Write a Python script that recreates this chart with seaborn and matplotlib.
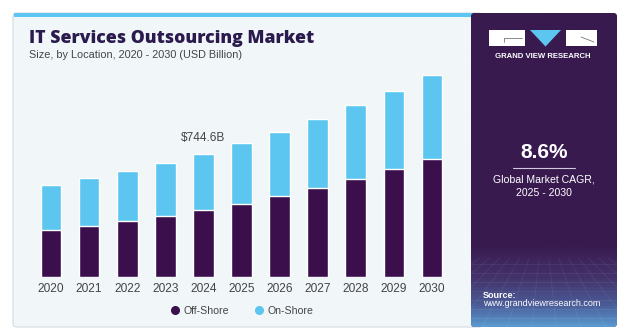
import numpy as np
import pandas as pd
import seaborn as sns
import matplotlib
matplotlib.use("Agg")
import matplotlib.pyplot as plt
from matplotlib.patches import FancyBboxPatch, Rectangle, Polygon
from matplotlib.lines import Line2D
from matplotlib.transforms import IdentityTransform
from matplotlib.colors import LinearSegmentedColormap

years = ["2020", "2021", "2022", "2023", "2024", "2025", "2026", "2027", "2028", "2029", "2030"]
offshore = [284.5, 310.6, 337.0, 369.0, 405.6, 443.8, 490.0, 538.8, 593.0, 654.0, 716.0]
onshore = [272.5, 287.0, 304.7, 319.0, 339.0, 365.2, 389.6, 415.8, 446.0, 474.0, 509.0]
series_names = ["Off-Shore", "On-Shore"]
highlight_year = "2024"
highlight_label = "$744.6B"
cagr_text = "8.6%"

PURPLE = "#3a0f4c"
BLUE = "#5cc6f0"
PANEL = "#381a4f"
BG = "#f1f6f9"
TXT = "#444444"

sns.set_style("white")
plt.rcParams['font.family'] = ['Liberation Sans', 'DejaVu Sans']

W, H = 620, 329
fig = plt.figure(figsize=(W / 100, H / 100), dpi=100)
fig.patch.set_facecolor("white")
ID = IdentityTransform()

def P(x, y):
    return (x, H - y)

# left panel
lp = FancyBboxPatch(P(13, 327), 470, 314, boxstyle="round,pad=0,rounding_size=4",
                    transform=ID, facecolor=BG, edgecolor="#d5dadf", lw=0.8, zorder=0)
fig.patches.append(lp)
fig.patches.append(Rectangle(P(14, 16.5), 460, 3.5, transform=ID, facecolor=BLUE,
                             edgecolor="none", zorder=1))

# right panel with gradient
rp = FancyBboxPatch(P(471, 327), 146, 314, boxstyle="round,pad=0,rounding_size=4",
                    transform=ID, facecolor=PANEL, edgecolor="none", zorder=2)
fig.patches.append(rp)
pax = fig.add_axes([471 / W, 2 / H, 146 / W, 314 / H], zorder=3)
pax.set_axis_off()
pax.set_facecolor("none")
cmap = LinearSegmentedColormap.from_list(
    "g", [(0, PANEL), (0.74, PANEL), (0.85, "#44346c"), (0.93, "#4a5a96"), (1.0, "#5a98cf")])
grad = np.linspace(0, 1, 300).reshape(-1, 1)
im = pax.imshow(grad, aspect="auto", cmap=cmap, extent=(0, 1, 1, 0))
pax.set_xlim(0, 1)
pax.set_ylim(1, 0)
im.set_clip_path(rp)
for yy in np.linspace(0.80, 1.0, 8):
    l = pax.plot([0, 1], [yy, yy], color="white", alpha=0.07, lw=0.6)[0]
    l.set_clip_path(rp)
for xx in np.linspace(-0.6, 1.6, 14):
    l = pax.plot([0.5 + (xx - 0.5) * 0.4, xx], [0.78, 1.0], color="white", alpha=0.07, lw=0.6)[0]
    l.set_clip_path(rp)

# logo
fig.patches.append(Rectangle(P(489, 46), 36, 16, transform=ID, facecolor="white", edgecolor="none", zorder=5))
fig.patches.append(Polygon([P(530, 30), P(561, 30), P(545.5, 46.5)], closed=True, transform=ID,
                           facecolor=BLUE, edgecolor="none", zorder=5))
fig.patches.append(Rectangle(P(566, 46), 31, 16, transform=ID, facecolor="white", edgecolor="none", zorder=5))
fig.lines.append(Line2D([504, 522], [H - 38, H - 38], transform=ID, color="#777777", lw=0.6, zorder=6))
fig.lines.append(Line2D([504, 504], [H - 38, H - 42], transform=ID, color="#777777", lw=0.6, zorder=6))
fig.lines.append(Line2D([581, 594], [H - 37, H - 42], transform=ID, color="#777777", lw=0.6, zorder=6))
fig.text(543 / W, 1 - 57 / H, "GRAND VIEW RESEARCH", color="white", fontsize=5.6,
         fontweight="bold", ha="center", va="center", zorder=6)

# right panel texts
fig.text(544 / W, 1 - 152.5 / H, cagr_text, color="white", fontsize=15, fontweight="bold",
         ha="center", va="center", zorder=6)
fig.lines.append(Line2D([513, 575], [H - 167.5, H - 167.5], transform=ID, color="#d0c8dc", lw=0.8, zorder=6))
fig.text(544 / W, 1 - 180 / H, "Global Market CAGR,", color="white", fontsize=7.6,
         ha="center", va="center", zorder=6)
fig.text(544 / W, 1 - 193 / H, "2025 - 2030", color="white", fontsize=7.6,
         ha="center", va="center", zorder=6)
fig.text(483 / W, 1 - 295 / H, "Source:", color="white", fontsize=6.5, fontweight="bold",
         ha="left", va="center", zorder=6)
fig.text(483 / W, 1 - 303.5 / H, "www.grandviewresearch.com", color="white", fontsize=6.5,
         ha="left", va="center", zorder=6)

# titles
fig.text(29 / W, 1 - 43.3 / H, "IT Services Outsourcing Market", color="#2b1a4e",
         fontsize=12.7, fontweight=800, family=["Open Sans", "Liberation Sans", "DejaVu Sans"],
         ha="left", va="baseline", zorder=6)
fig.text(29 / W, 1 - 57.7 / H, "Size, by Location, 2020 - 2030 (USD Billion)", color=TXT,
         fontsize=7.8, ha="left", va="baseline", zorder=6)

# bars
df = pd.DataFrame({"Year": years, series_names[0]: offshore, series_names[1]: onshore})
df["Total"] = df[series_names[0]] + df[series_names[1]]

ax = fig.add_axes([32 / W, (H - 277) / H, 419 / W, 217 / H], zorder=4)
ax.set_facecolor("none")
sns.barplot(data=df, x="Year", y="Total", color=BLUE, width=0.54, saturation=1, ax=ax)
sns.barplot(data=df, x="Year", y=series_names[0], color=PURPLE, width=0.54, saturation=1, ax=ax)
ax.set_xlim(-0.5, 10.5)
ax.set_ylim(0, 217 * 744.6 / 123)
for s in ax.spines.values():
    s.set_visible(False)
ax.set_yticks([])
ax.set_xlabel("")
ax.set_ylabel("")
ax.tick_params(axis="x", length=0, pad=4, labelsize=8.6, labelcolor=TXT)

hi = years.index(highlight_year)
ax.annotate(highlight_label, xy=(hi, df["Total"][hi]), xytext=(0, 7), textcoords="offset points",
            ha="center", va="bottom", fontsize=8.6, color=TXT)

handles = [Line2D([], [], marker="o", ls="", color=PURPLE, markersize=5.5),
           Line2D([], [], marker="o", ls="", color=BLUE, markersize=5.5)]
fig.legend(handles, series_names, loc="center", bbox_to_anchor=(241 / W, 1 - 311 / H), ncol=2,
           frameon=False, fontsize=7.6, handletextpad=0.2, columnspacing=2.2, handlelength=1.2,
           labelcolor=TXT)

fig.savefig("out.png", dpi=100, facecolor="white")
